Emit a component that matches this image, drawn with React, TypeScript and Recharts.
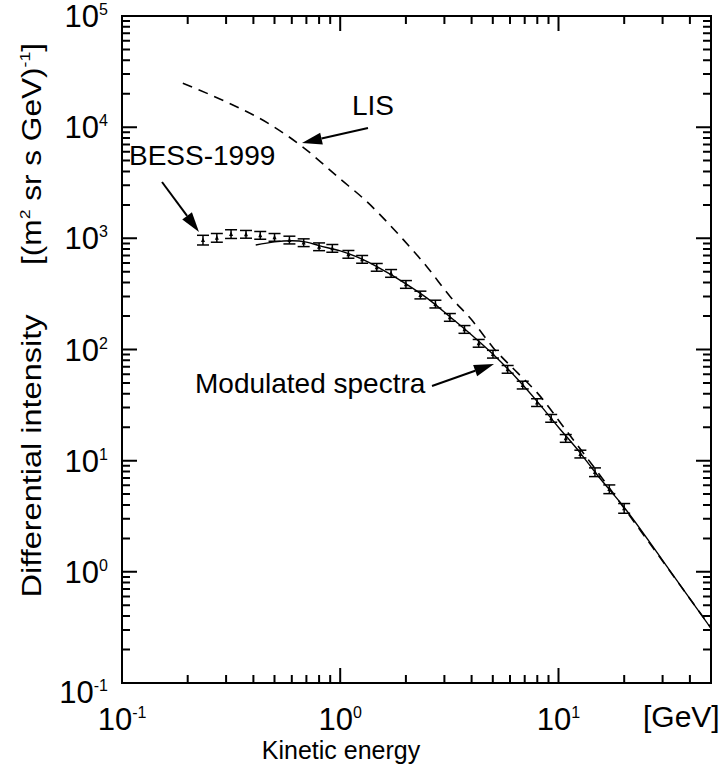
import React from "react";
import { ComposedChart, Line, Scatter, ErrorBar, XAxis, YAxis } from "recharts";

const W = 727;
const H = 767;
const FONT = "'Liberation Sans', Arial, Helvetica, sans-serif";

// BESS-1999 measured points (kinetic energy in GeV, intensity)
const bessEnergy = [
  0.235, 0.272, 0.316, 0.37, 0.43, 0.5, 0.585, 0.68, 0.8, 0.92, 1.09, 1.26, 1.47, 1.71, 2.0,
  2.33, 2.73, 3.18, 3.71, 4.31, 5.01, 5.85, 6.86, 7.98, 9.26, 10.8, 12.6, 14.7, 17.1, 20.0,
];
const bessFlux = [
  968, 1014, 1096, 1090, 1067, 1023, 968, 916, 842, 815, 720, 649, 550, 485, 386,
  310, 257, 195, 152, 114, 91, 66.5, 48, 33.4, 24.1, 15.9, 11.5, 7.9, 5.55, 3.74,
];
const bessRelErr = [
  0.1, 0.09, 0.09, 0.08, 0.08, 0.08, 0.08, 0.08, 0.08, 0.08, 0.08, 0.08, 0.08, 0.08, 0.08,
  0.08, 0.08, 0.08, 0.08, 0.08, 0.08, 0.08, 0.08, 0.08, 0.08, 0.08, 0.08, 0.09, 0.09, 0.1,
];

// local interstellar spectrum (dashed)
const lisEnergy = [0.19, 0.3, 0.48, 0.67, 1.0, 1.3, 1.95, 2.5, 3.2, 4.0, 5.0, 6.5, 8.0, 10.8, 14.5, 19.2, 30, 50];
const lisFlux = [24800, 16900, 10500, 6680, 3420, 2210, 968, 553, 297, 185, 105, 61.6, 40.7, 18.9, 8.8, 4.17, 1.25, 0.313];

// modulated spectrum (solid)
const modEnergy = [0.41, 0.5, 0.6, 0.7, 0.8, 1.0, 1.26, 1.5, 2.0, 2.5, 3.2, 4.0, 5.0, 6.5, 8.0, 10, 12.6, 15, 20, 30, 50];
const modFlux = [870, 930, 950, 925, 860, 770, 650, 545, 390, 290, 195, 135, 91, 54, 34, 20, 11.7, 7.5, 3.8, 1.27, 0.31];

const X_MIN = 0.1;
const X_MAX = 50;
const Y_MIN = 0.1;
const Y_MAX = 1e5;

const xTicks = [
  0.1, 0.2, 0.3, 0.4, 0.5, 0.6, 0.7, 0.8, 0.9,
  1, 2, 3, 4, 5, 6, 7, 8, 9,
  10, 20, 30, 40, 50,
];
const yDecades = [-1, 0, 1, 2, 3, 4];
const yTicks: number[] = [];
yDecades.forEach((d) => {
  for (let m = 1; m <= 9; m++) yTicks.push(m * Math.pow(10, d));
});
yTicks.push(1e5);

const bessData = bessEnergy.map((e, i) => ({
  e,
  v: bessFlux[i],
  err: [bessFlux[i] * bessRelErr[i], bessFlux[i] * bessRelErr[i]],
}));
const lisData = lisEnergy.map((e, i) => ({ e, v: lisFlux[i] }));
const modData = modEnergy.map((e, i) => ({ e, v: modFlux[i] }));

const isDecade = (v: number) => Math.abs(Math.log10(v) - Math.round(Math.log10(v))) < 1e-6;
const expOf = (v: number) => {
  const n = Math.round(Math.log10(v));
  return n < 0 ? "-" + Math.abs(n) : String(n);
};

// plot box: left/bottom axes 122 / 84 px, top/right 16 px
const LEFT_W = 122;
const BOTTOM_H = 84;
const EDGE = 16;
const PLOT_W = W - LEFT_W - EDGE;
const PLOT_H = H - BOTTOM_H - EDGE;
const MAJOR = 15;
const MINOR = 8;

// same log mapping as the chart's axes, used for the frame tick marks
const xPix = (v: number) =>
  LEFT_W + ((Math.log10(v) - Math.log10(X_MIN)) / (Math.log10(X_MAX) - Math.log10(X_MIN))) * PLOT_W;
const yPix = (v: number) =>
  EDGE + ((Math.log10(Y_MAX) - Math.log10(v)) / (Math.log10(Y_MAX) - Math.log10(Y_MIN))) * PLOT_H;

function BottomTick(props: any) {
  const { x, y, payload } = props;
  const v = payload.value;
  if (!isDecade(v)) return <g />;
  return (
    <text x={x} y={y + 47} textAnchor="middle" fontSize={31} fontFamily={FONT} fill="#000">
      10
      <tspan dy={-12} fontSize={16}>{expOf(v)}</tspan>
    </text>
  );
}

function LeftTick(props: any) {
  const { x, y, payload } = props;
  const v = payload.value;
  if (!isDecade(v)) return <g />;
  const shift = Math.round(Math.log10(v)) === -1 ? 9 : 0;
  return (
    <text x={x - 14} y={y + 11 + shift} textAnchor="end" fontSize={31} fontFamily={FONT} fill="#000">
      10
      <tspan dy={-12} fontSize={16}>{expOf(v)}</tspan>
    </text>
  );
}

function Tri({ cx, cy }: any) {
  return <path d={`M${cx - 2},${cy + 2} L${cx + 2},${cy + 2} L${cx},${cy - 2.5} Z`} fill="#000" />;
}

function Arrow({ x1, y1, x2, y2 }: { x1: number; y1: number; x2: number; y2: number }) {
  const dx = x2 - x1;
  const dy = y2 - y1;
  const len = Math.sqrt(dx * dx + dy * dy);
  const ux = dx / len;
  const uy = dy / len;
  const hl = 20;
  const hw = 6;
  const bx = x2 - ux * hl;
  const by = y2 - uy * hl;
  const pts = `${x2},${y2} ${bx - uy * hw},${by + ux * hw} ${bx + uy * hw},${by - ux * hw}`;
  return (
    <g>
      <line x1={x1} y1={y1} x2={bx} y2={by} stroke="#000" strokeWidth={2} />
      <polygon points={pts} fill="#000" />
    </g>
  );
}

function Frame() {
  const top = EDGE;
  const bottom = EDGE + PLOT_H;
  const left = LEFT_W;
  const right = LEFT_W + PLOT_W;
  let d = "";
  xTicks.forEach((v) => {
    const px = xPix(v).toFixed(1);
    const len = isDecade(v) ? MAJOR : MINOR;
    d += `M${px},${bottom} V${bottom - len} M${px},${top} V${top + len} `;
  });
  yTicks.forEach((v) => {
    const py = yPix(v).toFixed(1);
    const len = isDecade(v) ? MAJOR : MINOR;
    d += `M${left},${py} H${left + len} M${right},${py} H${right - len} `;
  });
  return (
    <g>
      <rect x={left} y={top} width={PLOT_W} height={PLOT_H} fill="none" stroke="#000" strokeWidth={2} />
      <path d={d} fill="none" stroke="#000" strokeWidth={2} />
    </g>
  );
}

export default function App() {
  return (
    <div style={{ position: "absolute", left: 0, top: 0, width: W, height: H }}>
      <ComposedChart width={W} height={H} margin={{ top: EDGE, right: EDGE, bottom: 0, left: 0 }}>
        <XAxis
          dataKey="e"
          type="number"
          scale="log"
          domain={[X_MIN, X_MAX]}
          allowDataOverflow
          ticks={xTicks}
          interval={0}
          tickSize={0}
          tickMargin={0}
          tickLine={false}
          tick={(p: any) => <BottomTick {...p} />}
          height={BOTTOM_H}
          axisLine={false}
        />
        <YAxis
          dataKey="v"
          type="number"
          scale="log"
          domain={[Y_MIN, Y_MAX]}
          allowDataOverflow
          ticks={yTicks}
          interval={0}
          tickSize={0}
          tickMargin={0}
          tickLine={false}
          tick={(p: any) => <LeftTick {...p} />}
          width={LEFT_W}
          axisLine={false}
        />
        <Line
          data={lisData}
          dataKey="v"
          type="monotone"
          stroke="#000"
          strokeWidth={1.6}
          strokeDasharray="10 7"
          dot={false}
          isAnimationActive={false}
        />
        <Line
          data={modData}
          dataKey="v"
          type="monotone"
          stroke="#000"
          strokeWidth={1.4}
          dot={false}
          isAnimationActive={false}
        />
        <Scatter data={bessData} dataKey="v" shape={(p: any) => <Tri {...p} />} isAnimationActive={false}>
          <ErrorBar dataKey="err" direction="y" width={6} stroke="#000" strokeWidth={1.5} isAnimationActive={false} />
        </Scatter>
      </ComposedChart>
      <svg
        width={W}
        height={H}
        style={{ position: "absolute", left: 0, top: 0, pointerEvents: "none" }}
        fontFamily={FONT}
      >
        <Frame />
        <text x={352} y={115} fontSize={28}>LIS</text>
        <Arrow x1={368} y1={128} x2={302} y2={143} />
        <text x={129} y={165} fontSize={28}>BESS-1999</text>
        <Arrow x1={162} y1={182} x2={199} y2={232} />
        <text x={195} y={393} fontSize={28}>Modulated spectra</text>
        <Arrow x1={432} y1={386} x2={494} y2={364} />
        <text x={341} y={759} fontSize={25} textAnchor="middle">Kinetic energy</text>
        <text x={643} y={727} fontSize={30}>[GeV]</text>
        <text
          transform="translate(41,456) rotate(-90)"
          fontSize={27}
          textAnchor="middle"
          textLength={283}
          lengthAdjust="spacingAndGlyphs"
        >
          Differential intensity
        </text>
        <text
          transform="translate(41,154) rotate(-90)"
          fontSize={27}
          textAnchor="middle"
          textLength={222}
          lengthAdjust="spacingAndGlyphs"
        >
          [(m<tspan dy={-11} fontSize={15}>2</tspan>
          <tspan dy={11}> sr s GeV)</tspan>
          <tspan dy={-11} fontSize={15}>-1</tspan>
          <tspan dy={11}>]</tspan>
        </text>
      </svg>
    </div>
  );
}
